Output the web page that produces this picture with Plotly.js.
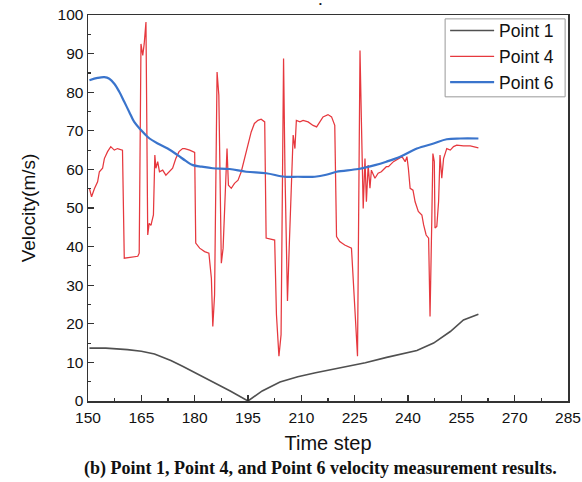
<!DOCTYPE html>
<html>
<head>
<meta charset="utf-8">
<script src="https://cdn.plot.ly/plotly-3.0.1.min.js"></script>
<style>html,body{margin:0;padding:0;background:#fff;}#chart{width:582px;height:482px;}</style>
</head>
<body>
<div id="chart"></div>
<script>
// Point 1 (black)
const p1X = [150.4,155,161.1,165,168.7,173.3,176.6,180,185.1,190,195,199,204,209,214,219,224,228,234,238,242.5,247.2,251.9,255.6,259.8];
const p1Y = [13.7,13.7,13.3,12.9,12.2,10.5,9.0,7.4,5.1,2.6,0,2.6,4.9,6.3,7.3,8.2,9.1,9.9,11.3,12.2,13.1,15.0,18.0,21.0,22.5];

// Point 4 (red)
const p4X = [150.4,151,151.8,152.7,153.2,154.1,154.6,155.5,156.4,157.4,158.3,159.7,160.2,161.5,163,164,164.4,164.9,165.4,165.8,166.3,166.8,167.2,167.7,168.4,168.8,169.1,169.6,170.1,171,171.9,172.8,173.8,174.7,175.6,176.6,177.2,178.6,180,180.3,181.4,182.8,184,184.7,185.1,185.6,186.3,186.8,187.5,188,188.6,189.1,189.5,190.3,191.2,192.2,193.1,194,195,195.9,196.8,197.8,198.7,199.7,200.1,201.1,202.5,203,203.7,204.3,205,205.4,206.1,206.6,207.2,207.7,208.2,208.6,209.6,210.5,211.9,213.3,214.3,215.2,216.1,217.5,218.5,219.4,219.9,220.8,222.2,224.1,224.6,225.2,225.8,226.2,226.5,226.9,227.4,227.9,228.3,228.8,229.3,229.7,230.7,231.6,232.5,233.9,234.5,235.9,237.3,238.3,239.2,239.7,240.1,240.6,241.4,242,242.9,243.9,244.4,245.1,245.8,246.2,246.7,247,247.4,247.6,248.1,248.6,249,249.5,250,250.9,251.9,252.8,253.7,255.6,257.5,259.8];
const p4Y = [55.1,52.9,55,56.8,59.4,60.3,62.8,64.6,65.9,65,65.4,65,37,37.2,37.3,37.5,38.3,92.5,89.5,92.5,98.2,43,46,45.5,48.2,63.7,60.3,62,59.4,59.8,58.5,59.4,60.3,62.8,64.6,65.4,65.4,65,64.4,40.9,39.6,38.7,38.3,31.8,19.3,27.5,85.2,79.2,35.7,39.6,54.2,65.4,55.9,55.1,56.4,57.2,59.4,62.8,66.7,69.7,71.9,72.7,73,72.3,42.2,42,41.7,22.4,11.6,17.2,88.7,59.4,25.9,40,56.8,68.9,65.4,72.7,72.3,72.7,72.3,71.4,71,72.3,73.6,74.2,73.6,71.4,42.6,41.3,40.4,39.6,32.7,21.5,11.6,56.8,90.8,72.3,49.9,62.8,51.6,61.1,55.1,59.8,57.7,59,59.4,60.7,60.7,62,62.8,63.3,62,63.3,60.3,55.1,54.6,51.6,49.1,48.2,45.6,43,42.2,21.9,47.3,64.1,62,44.8,45.2,51.6,63.7,57.7,62.8,65.4,65,65.9,66.3,66.1,66.1,65.6];

// Point 6 (blue)
const p6X = [150.4,152.7,154.6,156,157.4,158.8,160.2,161.6,163,164.9,166.8,169.6,172.4,175.2,177.5,179.5,182,185.1,189.8,194.5,200.1,205.3,209,213.8,217,219.9,226,230.7,233.9,237.8,242.5,247.2,250.9,254.7,259.8];
const p6Y = [83.1,83.7,83.9,83.5,82.2,80.1,77.5,74.9,72.3,70.2,68.4,66.7,65.4,63.7,62.2,61.1,60.7,60.3,60.1,59.4,59,58.1,58.1,58.1,58.6,59.4,60.1,61.1,62,63.3,65.4,66.7,67.8,68,68];

const seriesNames = ['Point 1','Point 4','Point 6'];
const xTickVals = [150,165,180,195,210,225,240,255,270,285];
const yTickVals = [0,10,20,30,40,50,60,70,80,90,100];
const xTitle = 'Time step';
const yTitle = 'Velocity(m/s)';
const caption = '(b) Point 1, Point 4, and Point 6 velocity measurement results.';

const sans = 'Liberation Sans, Arial, sans-serif';

const traces = [
  {x: p1X, y: p1Y, name: seriesNames[0], mode: 'lines', line: {color: '#505050', width: 1.6}},
  {x: p4X, y: p4Y, name: seriesNames[1], mode: 'lines', line: {color: '#e6383e', width: 1.25}},
  {x: p6X, y: p6Y, name: seriesNames[2], mode: 'lines', line: {color: '#3a74cc', width: 2.2, shape: 'spline'}}
];

const axisCommon = {
  showline: true, mirror: true, linecolor: '#333', linewidth: 1.5,
  ticks: 'inside', ticklen: 6, tickwidth: 1.3, tickcolor: '#333',
  showgrid: false, zeroline: false,
  tickfont: {family: sans, size: 15.5, color: '#111'}
};

const layout = {
  width: 582, height: 482,
  margin: {l: 88, r: 14, t: 15, b: 81},
  paper_bgcolor: '#fff', plot_bgcolor: '#fff',
  showlegend: true,
  legend: {
    x: 0.744, y: 1.006, xanchor: 'left', yanchor: 'top',
    bgcolor: 'rgba(0,0,0,0)', borderwidth: 0,
    font: {family: sans, size: 17.5, color: '#111'},
    itemwidth: 44, tracegroupgap: 0
  },
  xaxis: Object.assign({}, axisCommon, {
    range: [150, 285], tickvals: xTickVals, ticklabelstandoff: 2,
    minor: {dtick: 7.5, ticks: 'inside', ticklen: 3, tickwidth: 1.2, tickcolor: '#333'},
    title: {text: xTitle, font: {family: sans, size: 20, color: '#111'}, standoff: 11}
  }),
  yaxis: Object.assign({}, axisCommon, {
    range: [0, 100], tickvals: yTickVals,
    minor: {dtick: 5, ticks: 'inside', ticklen: 3, tickwidth: 1.2, tickcolor: '#333'},
    title: {text: yTitle, font: {family: sans, size: 19, color: '#111'}, standoff: 17}
  }),
  shapes: [
    {type: 'rect', xref: 'paper', yref: 'paper', x0: 0.744, x1: 0.994, y0: 0.788, y1: 0.990,
     line: {color: '#999', width: 1}, fillcolor: '#fff', layer: 'above'}
  ],
  annotations: [
    {text: caption, xref: 'paper', yref: 'paper', x: 0.485, y: -0.207, xanchor: 'center', yanchor: 'bottom',
     showarrow: false, font: {family: 'Liberation Serif, Times New Roman, serif', size: 18, color: '#111', weight: 'bold'}},
    {text: '•', xref: 'paper', yref: 'paper', x: 0.485, y: 1.031, xanchor: 'center', yanchor: 'middle',
     showarrow: false, font: {family: sans, size: 8, color: '#111'}}
  ]
};

Plotly.newPlot('chart', traces, layout, {displayModeBar: false, staticPlot: true});
</script>
</body>
</html>
